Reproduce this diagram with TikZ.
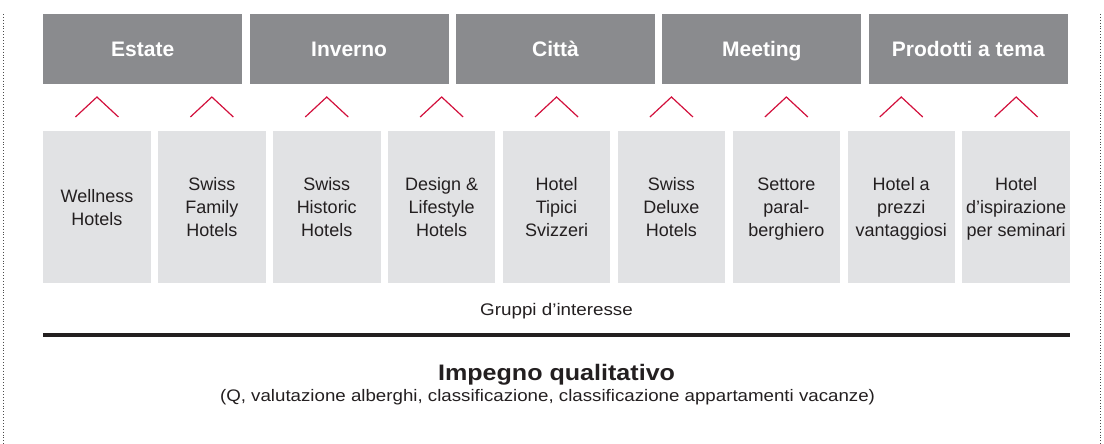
\documentclass[tikz,border=0pt]{standalone}
\usepackage{fontspec}
\setmainfont{Liberation Sans}
\newfontfamily\widesans[FakeStretch=1.12]{Liberation Sans}
\usetikzlibrary{positioning}
\definecolor{themegray}{HTML}{8A8B8E}
\definecolor{groupgray}{HTML}{E1E2E4}
\definecolor{chevronred}{HTML}{D2103C}
\definecolor{inkdark}{HTML}{231F20}

\begin{document}
\begin{tikzpicture}[
    x=1pt, y=-1pt,
    node distance=7pt,
    themebox/.style={fill=themegray, text=white, inner sep=0pt, minimum width=199pt, minimum height=70pt,
      font=\fontsize{21}{24}\selectfont\bfseries, text height=15pt, text depth=0pt},
    groupbox/.style={fill=groupgray, text=inkdark, align=center, inner sep=0pt, minimum width=107.5pt,
      minimum height=152pt, font=\fontsize{18}{23}\selectfont, text depth=0pt},
    chevron/.style={draw=chevronred, line width=1.2pt},
    caption/.style={text=inkdark, inner sep=0pt},
    rule/.style={draw=inkdark, line width=3.5pt},
    frame/.style={draw=black!70, dotted, line width=0.9pt}]
    \useasboundingbox (0,0) rectangle (1104,444);

    % Prodotti
    \node[themebox, anchor=north west] (estate) at (43,14) {Estate};
    \node[themebox, right=of estate]   (inverno) {Inverno};
    \node[themebox, right=of inverno]  (citta)   {Città};
    \node[themebox, right=of citta]    (meeting) {Meeting};
    \node[themebox, right=of meeting]  (temi)    {Prodotti a tema};

    % Gruppi d'interesse
    \node[groupbox, anchor=north west] (wellness) at (43,131) {Wellness\\Hotels};
    \node[groupbox, right=of wellness] (family)   {Swiss\\Family\\Hotels};
    \node[groupbox, right=of family]   (historic) {Swiss\\Historic\\Hotels};
    \node[groupbox, right=of historic] (design)   {Design \&\\Lifestyle\\Hotels};
    \node[groupbox, right=of design]   (tipici)   {Hotel\\Tipici\\Svizzeri};
    \node[groupbox, right=of tipici]   (deluxe)   {Swiss\\Deluxe\\Hotels};
    \node[groupbox, right=of deluxe]   (para)     {Settore\\paral-\\berghiero};
    \node[groupbox, right=of para]     (prezzi)   {Hotel a\\prezzi\\vantaggiosi};
    \node[groupbox, right=of prezzi]   (seminari) {Hotel\\d’ispirazione\\per seminari};

    \foreach \g in {wellness,family,historic,design,tipici,deluxe,para,prezzi,seminari}
      \draw[chevron] (\g.north) ++(-21.5,-14) -- ++(21.5,-20) -- ++(21.5,20);

    \node[caption, font=\widesans\fontsize{16.8}{20}\selectfont, below=32pt of tipici.south, anchor=base] (gruppi) {Gruppi d’interesse};

    \coordinate[below=51.5pt of wellness.south west] (ruleL);
    \coordinate[below=51.5pt of seminari.south east] (ruleR);
    \draw[rule] (ruleL) -- (ruleR);

    % Impegno qualitativo
    \node[caption, font=\widesans\fontsize{22.4}{26}\selectfont\bfseries, below=65pt of gruppi.base, anchor=base] (impegno) {Impegno qualitativo};
    \node[caption, font=\widesans\fontsize{16.7}{19}\selectfont, below=21pt of impegno.base, anchor=base, xshift=-9pt] (dettagli)
      {(Q, valutazione alberghi, classificazione, classificazione appartamenti vacanze)};

    \coordinate (frameLT) at (3,14);
    \coordinate (frameLB) at (3,444);
    \coordinate (frameRT) at (1100,14);
    \coordinate (frameRB) at (1100,444);
    \draw[frame] (frameLT) -- (frameLB);
    \draw[frame] (frameRT) -- (frameRB);
\end{tikzpicture}
\end{document}
